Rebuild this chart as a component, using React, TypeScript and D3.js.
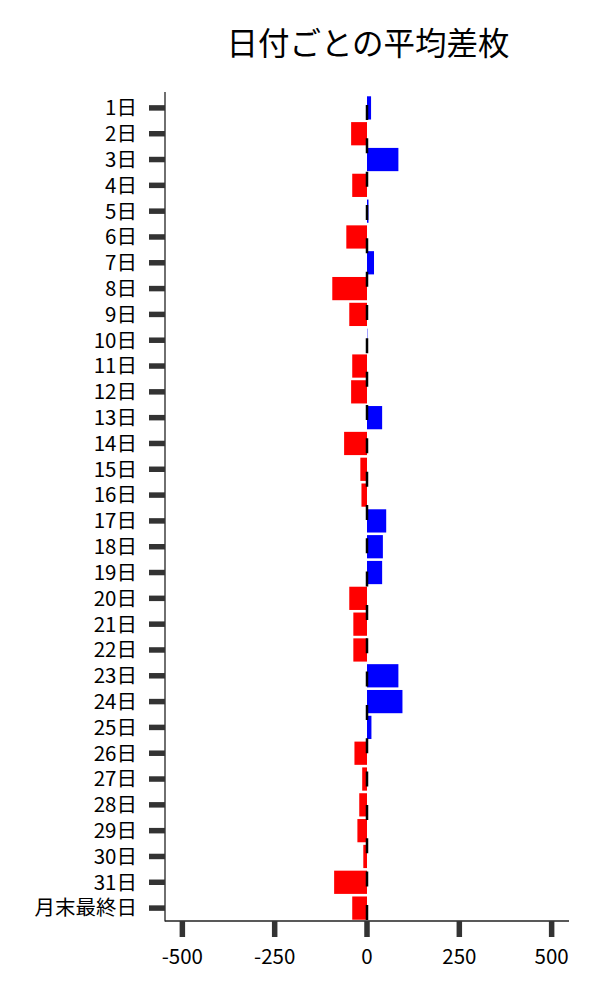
import React from "react";
import * as d3 from "d3";

const days = [
  "1日", "2日", "3日", "4日", "5日", "6日", "7日", "8日", "9日", "10日",
  "11日", "12日", "13日", "14日", "15日", "16日", "17日", "18日", "19日", "20日",
  "21日", "22日", "23日", "24日", "25日", "26日", "27日", "28日", "29日", "30日",
  "31日", "月末最終日"
];
const avgDiff = [
  11, -43, 85, -40, 4, -56, 19, -94, -48, 1,
  -40, -43, 41, -62, -18, -15, 52, 43, 41, -48,
  -37, -37, 85, 96, 12, -34, -13, -21, -26, -10,
  -89, -40
];
const xTicks = [-500, -250, 0, 250, 500];
const title = "日付ごとの平均差枚";

const App = () => {
  const width = 600;
  const height = 1000;
  const left = 165, right = 569, top = 92, bottom = 921;
  const font = "'Noto Sans CJK JP', 'Noto Sans', sans-serif";

  const x = d3.scaleLinear().domain([-547, 547]).range([left, right]);
  const y = d3.scaleBand<string>()
    .domain(days)
    .range([95, bottom])
    .paddingInner(0.1)
    .paddingOuter(0.05);

  const rows = days.map((d, i) => ({ day: d, v: avgDiff[i] }));

  return (
    <svg width={width} height={height} style={{ display: "block", margin: "-8px" }}>
      <rect width={width} height={height} fill="#fff" />
      <text x={(left + right) / 2 + 1} y={55} textAnchor="middle" fontSize={31.5} fontFamily={font} fill="#000">
        {title}
      </text>

      {rows.map(r => (
        <rect
          key={r.day}
          x={Math.min(x(0), x(r.v))}
          y={y(r.day) as number}
          width={Math.abs(x(r.v) - x(0))}
          height={y.bandwidth()}
          fill={r.v < 0 ? "#ff0000" : "#0000ff"}
        />
      ))}

      {/* zero line */}
      <line
        x1={x(0)} x2={x(0)} y1={top} y2={bottom}
        stroke="#000" strokeWidth={2.5}
        strokeDasharray="15 18.33" strokeDashoffset={20.33}
      />

      {/* spines */}
      <line x1={left} x2={left} y1={top} y2={bottom + 0.5} stroke="#222" strokeWidth={1.3} />
      <line x1={left} x2={right} y1={bottom} y2={bottom} stroke="#222" strokeWidth={1.3} />

      {/* y ticks */}
      {days.map(d => {
        const cy = (y(d) as number) + y.bandwidth() / 2;
        return (
          <g key={d}>
            <line x1={149} x2={left} y1={cy} y2={cy} stroke="#333" strokeWidth={5.5} />
            <text x={137} y={cy} dy="0.36em" textAnchor="end" fontSize={20.5} fontFamily={font} fill="#000">
              {d}
            </text>
          </g>
        );
      })}

      {/* x ticks */}
      {xTicks.map(t => (
        <g key={t}>
          <line x1={x(t)} x2={x(t)} y1={bottom} y2={937} stroke="#333" strokeWidth={5.5} />
          <text x={x(t)} y={964} textAnchor="middle" fontSize={20.5} fontFamily={font} fill="#000">
            {t}
          </text>
        </g>
      ))}
    </svg>
  );
};

export default App;
